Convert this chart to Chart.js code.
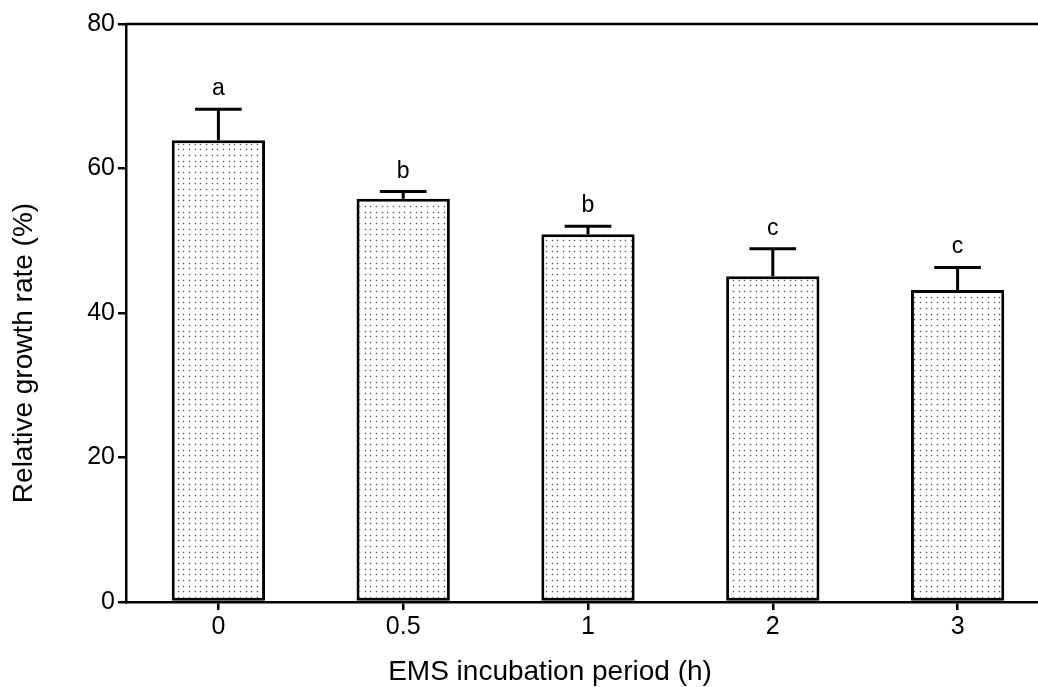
<!DOCTYPE html>
<html>
<head>
<meta charset="utf-8">
<script src="https://cdn.jsdelivr.net/npm/chart.js@4.4.0/dist/chart.umd.min.js"></script>
<style>
  html, body { margin: 0; padding: 0; background: #fff; overflow: hidden; }
  #wrap { width: 1038px; height: 687px; overflow: hidden; }
  #box { width: 1050px; height: 687px; }
</style>
</head>
<body>
<div id="wrap"><div id="box"><canvas id="growthChart"></canvas></div></div>
<script>
// data
const periods = ['0', '0.5', '1', '2', '3'];
const growthRate = [63.9, 55.8, 50.9, 45.1, 43.2];
const growthErr = [4.3, 1.0, 1.1, 3.8, 3.1];
const groupLetters = ['a', 'b', 'b', 'c', 'c'];
const yTicks = [0, 20, 40, 60, 80];
const xTitle = 'EMS incubation period (h)';
const yTitle = 'Relative growth rate (%)';

const FONT = '"Liberation Sans", Arial, sans-serif';

// stippled fill like the original (~5.7px dot spacing)
function dotPattern() {
  const c = document.createElement('canvas');
  c.width = 17; c.height = 17;
  const g = c.getContext('2d');
  g.fillStyle = '#fff';
  g.fillRect(0, 0, 17, 17);
  [2, 8, 13].forEach(px => {
    [2, 8, 13].forEach(py => {
      g.fillStyle = 'rgba(150,150,150,0.35)';
      g.fillRect(px - 1, py, 3, 1);
      g.fillRect(px, py - 1, 1, 3);
      g.fillStyle = 'rgba(70,70,70,0.85)';
      g.fillRect(px, py, 1, 1);
    });
  });
  return g.createPattern(c, 'repeat');
}

const errorBars = {
  id: 'errorBars',
  afterDatasetsDraw(chart) {
    const { ctx, scales: { y } } = chart;
    const meta = chart.getDatasetMeta(0);
    ctx.save();
    ctx.strokeStyle = '#000';
    ctx.lineWidth = 3;
    meta.data.forEach((bar, i) => {
      const top = y.getPixelForValue(growthRate[i] + growthErr[i]);
      const half = bar.width / 4;
      ctx.beginPath();
      ctx.moveTo(bar.x, bar.y);
      ctx.lineTo(bar.x, top);
      ctx.moveTo(bar.x - half, top);
      ctx.lineTo(bar.x + half, top);
      ctx.stroke();
      ctx.fillStyle = '#000';
      ctx.font = '23px ' + FONT;
      ctx.textAlign = 'center';
      ctx.textBaseline = 'alphabetic';
      ctx.fillText(groupLetters[i], bar.x, top - 14);
    });
    // top frame line at 80
    const yTop = y.getPixelForValue(80);
    ctx.lineWidth = 2.5;
    ctx.beginPath();
    ctx.moveTo(chart.chartArea.left, yTop);
    ctx.lineTo(chart.width, yTop);
    ctx.stroke();

    // axis titles (centred on the original figure, not on the plot area)
    ctx.fillStyle = '#000';
    ctx.font = '28px ' + FONT;
    ctx.textAlign = 'center';
    ctx.textBaseline = 'middle';
    ctx.fillText(xTitle, 550, 672);
    ctx.translate(24, 353);
    ctx.rotate(-Math.PI / 2);
    ctx.fillText(yTitle, 0, 0);
    ctx.restore();
  }
};

new Chart(document.getElementById('growthChart'), {
  type: 'bar',
  data: {
    labels: periods,
    datasets: [{
      data: growthRate,
      backgroundColor: dotPattern(),
      borderColor: '#000',
      borderWidth: 3,
      borderSkipped: false,
      barPercentage: 0.505,
      categoryPercentage: 1
    }]
  },
  options: {
    responsive: true,
    maintainAspectRatio: false,
    animation: false,
    layout: { padding: { top: 24, left: 0, right: 0, bottom: 0 } },
    plugins: { legend: { display: false }, tooltip: { enabled: false } },
    scales: {
      x: {
        grid: { drawOnChartArea: false, offset: false, color: '#000', lineWidth: 2.5, tickLength: 8 },
        border: { color: '#000', width: 2.5 },
        ticks: { color: '#000', font: { family: FONT, size: 25 }, padding: 2 },
        afterFit: (s) => { s.height = 85; }
      },
      y: {
        min: 0, max: 80,
        afterBuildTicks: (s) => { s.ticks = yTicks.map(v => ({ value: v })); },
        grid: { drawOnChartArea: false, color: '#000', lineWidth: 2.5, tickLength: 8 },
        border: { color: '#000', width: 2.5 },
        ticks: { color: '#000', font: { family: FONT, size: 25 }, padding: 3 },
        afterFit: (s) => { s.width = 126; }
      }
    }
  },
  plugins: [errorBars]
});
</script>
</body>
</html>
